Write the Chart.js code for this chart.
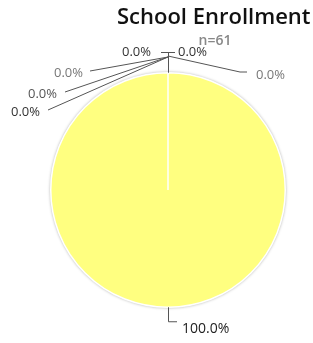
<!DOCTYPE html>
<html><head><meta charset="utf-8">
<script src="https://cdn.jsdelivr.net/npm/chart.js@4/dist/chart.umd.min.js"></script>
<style>html,body{margin:0;padding:0;background:#fff;}#wrap{width:313px;height:343px;}</style>
</head><body><div id="wrap"><canvas id="c" width="313" height="343"></canvas></div>
<script>
const categories = ["Not enrolled", "Preschool", "Kindergarten", "Elementary", "Middle/High", "Enrolled"];
const values = [0, 0, 0, 0, 0, 61];
const titleText = "School Enrollment";
const subtitleText = "n=61";

const total = values.reduce((a, b) => a + b, 0);
const pct = values.map(v => (total ? v / total * 100 : 0).toFixed(1) + "%");

const labelLayout = [
  {lx: 151, ly: 52, ex: 161, ey: 52, align: "right", color: "#333"},
  {lx: 178, ly: 52, ex: 175, ey: 52, align: "left", color: "#333"},
  {lx: 83, ly: 73, ex: 90, ey: 71, align: "right", color: "#777"},
  {lx: 57, ly: 94, ex: 65, ey: 92, align: "right", color: "#555"},
  {lx: 40, ly: 112, ex: 48, ey: 110, align: "right", color: "#333"},
  {lx: 256, ly: 75, ex: 240, ey: 72, align: "left", color: "#777"}
];

const FONT = "'Open Sans', sans-serif";

const labelPlugin = {
  id: "labels",
  beforeDatasetsDraw(chart) {
    const ctx = chart.ctx;
    const arc = chart.getDatasetMeta(0).data[5];
    ctx.save();
    ctx.shadowColor = "rgba(0,0,0,0.35)";
    ctx.shadowBlur = 3;
    ctx.beginPath();
    ctx.arc(arc.x, arc.y, arc.outerRadius + 0.5, 0, Math.PI * 2);
    ctx.fillStyle = "#e4e4e4";
    ctx.fill();
    ctx.restore();
  },
  afterDraw(chart) {
    const ctx = chart.ctx;
    const meta = chart.getDatasetMeta(0);
    const big = meta.data[5];
    const cx = big.x, cy = big.y, r = big.outerRadius;
    ctx.save();
    ctx.fillStyle = "#111";
    ctx.font = "600 22px " + FONT;
    ctx.textAlign = "left";
    ctx.textBaseline = "alphabetic";
    ctx.fillText(titleText, 117, 24);
    ctx.fillStyle = "#888";
    ctx.textAlign = "center";
    ctx.font = "600 14px " + FONT;
    ctx.fillText(subtitleText, 215, 45);

    ctx.strokeStyle = "#555";
    ctx.lineWidth = 1;
    const topX = cx, topY = cy - r;
    ctx.beginPath();
    ctx.moveTo(topX + 0.5, topY);
    ctx.lineTo(topX + 0.5, 52.5);
    ctx.moveTo(161, 52.5);
    ctx.lineTo(175, 52.5);
    ctx.stroke();
    for (let i = 2; i < 5; i++) {
      const L = labelLayout[i];
      ctx.beginPath();
      ctx.moveTo(topX, 57);
      ctx.lineTo(L.ex, L.ey);
      ctx.stroke();
    }
    ctx.beginPath();
    ctx.moveTo(topX, 56);
    ctx.lineTo(240, 72);
    ctx.lineTo(247, 72);
    ctx.stroke();

    ctx.font = "13px " + FONT;
    ctx.textBaseline = "middle";
    for (let i = 0; i < 5; i++) {
      const L = labelLayout[i];
      ctx.fillStyle = L.color;
      ctx.textAlign = L.align;
      ctx.fillText(pct[i], L.lx, L.ly);
    }
    ctx.fillStyle = labelLayout[5].color;
    ctx.textAlign = "left";
    ctx.fillText(pct[4], labelLayout[5].lx, labelLayout[5].ly);

    const by = cy + r;
    ctx.beginPath();
    ctx.moveTo(cx + 0.5, by);
    ctx.lineTo(cx + 0.5, by + 14.5);
    ctx.lineTo(cx + 9, by + 14.5);
    ctx.stroke();
    ctx.fillStyle = "#222";
    ctx.textAlign = "left";
    ctx.font = "14px " + FONT;
    ctx.fillText(pct[5], cx + 14, by + 22);
    ctx.restore();
  }
};

new Chart(document.getElementById("c"), {
  type: "pie",
  data: {
    labels: categories,
    datasets: [{
      data: values,
      backgroundColor: ["#9ecae1", "#fdae6b", "#a1d99b", "#bcbddc", "#fc9272", "#ffff80"],
      borderColor: "#ffffff",
      borderWidth: [0, 0, 0, 0, 0, 1.5]
    }]
  },
  options: {
    responsive: false,
    animation: false,
    layout: {padding: {top: 72, bottom: 35, left: 23, right: 0}},
    plugins: {legend: {display: false}, tooltip: {enabled: false}, title: {display: false}}
  },
  plugins: [labelPlugin]
});
</script>
</body></html>
